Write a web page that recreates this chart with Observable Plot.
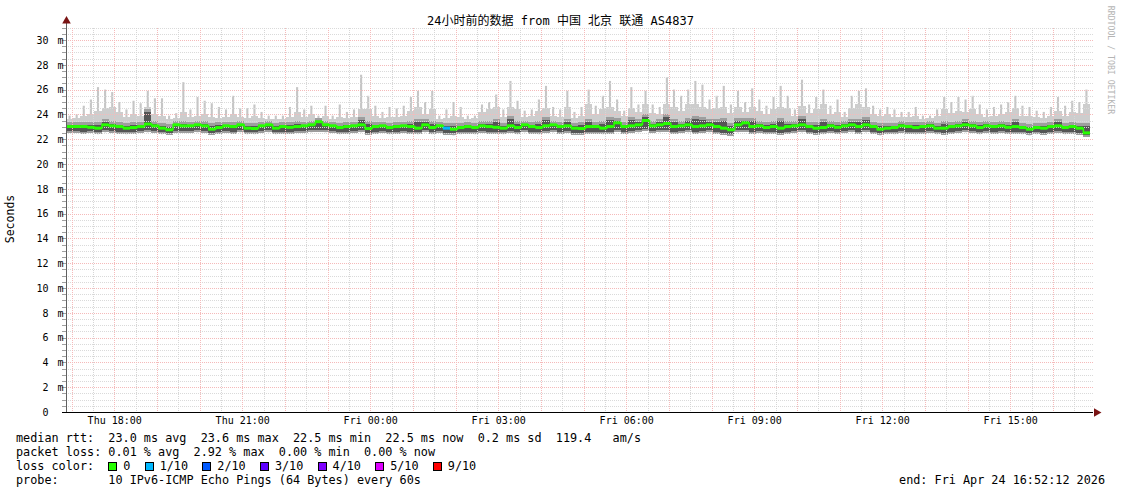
<!DOCTYPE html>
<html><head><meta charset="utf-8">
<script src="https://cdn.jsdelivr.net/npm/d3@7"></script>
<script src="https://cdn.jsdelivr.net/npm/@observablehq/plot@0.6"></script>
<style>
body{margin:0;background:#fff;}
#wrap{position:relative;width:1121px;height:494px;overflow:hidden;background:#fff;font-family:"DejaVu Sans Mono",monospace;}
#chart{position:absolute;left:0;top:0;}
.t{position:absolute;white-space:pre;color:#000;}
.leg{font-size:11.8px;line-height:14px;left:16px;}
.box{display:inline-block;width:15px;height:9px;position:relative;vertical-align:-1px;}
.box i{position:absolute;left:0;top:0;width:7px;height:7px;border:1px solid #000;}
</style></head>
<body>
<div id="wrap">
  <div id="chart"></div>
  <div class="t" id="title" style="left:0;width:1121px;text-align:center;top:14px;font-size:12px;line-height:14px;font-family:'DejaVu Sans Mono','Noto Sans CJK SC',monospace;"></div>
  <div class="t" id="ylab" style="left:10px;top:219px;font-size:11.5px;transform:translate(-50%,-50%) rotate(-90deg);"></div>
  <div class="t" id="wm" style="left:1111px;top:60px;font-size:8.2px;color:#b4b4b4;transform:translate(-50%,-50%) rotate(90deg);"></div>
  <div class="t leg" id="l1" style="top:431px;"></div>
  <div class="t leg" id="l2" style="top:445px;"></div>
  <div class="t leg" id="l3" style="top:459px;"></div>
  <div class="t leg" id="l4" style="top:473px;"></div>
  <div class="t leg" id="lend" style="top:473px;left:auto;right:16px;"></div>
</div>
<script>
// ---- texts ----
const titleText = "24小时前的数据 from 中国 北京 联通 AS4837";
const yAxisTitle = "Seconds";
const watermark = "RRDTOOL / TOBI OETIKER";
const statLine1 = "median rtt:  23.0 ms avg  23.6 ms max  22.5 ms min  22.5 ms now  0.2 ms sd  119.4   am/s";
const statLine2 = "packet loss: 0.01 % avg  2.92 % max  0.00 % min  0.00 % now";
const probeLine = "probe:       10 IPv6-ICMP Echo Pings (64 Bytes) every 60s";
const endLine = "end: Fri Apr 24 16:52:12 2026";
const lossLabels = ["0", "1/10", "2/10", "3/10", "4/10", "5/10", "9/10"];
const lossColors = ["#26ff00", "#00b8ff", "#0059ff", "#5e00ff", "#7e00ff", "#dd00ff", "#ff0000"];

// ---- axes ----
const yTicks = [0, 2, 4, 6, 8, 10, 12, 14, 16, 18, 20, 22, 24, 26, 28, 30];
const yMax = 31;
const startTime = Date.UTC(2026, 3, 23, 16, 52, 12);   // Thu Apr 23 16:52:12
const endTime = Date.UTC(2026, 3, 24, 16, 52, 12);     // Fri Apr 24 16:52:12
const binMinutes = 10;

// ---- data (ms), one value per 10-minute bin ----
const median = [
23.06,23.06,23.06,23.00,22.93,23.20,23.12,23.06,22.93,22.98,23.06,23.26,
23.12,22.93,22.80,23.20,23.12,23.12,23.20,23.12,22.85,22.98,23.12,23.06,
23.20,22.93,22.90,23.12,23.20,22.93,23.06,23.00,23.06,23.12,23.20,23.45,
23.20,23.12,22.98,23.06,23.12,23.20,22.90,23.06,23.12,22.98,23.06,23.12,
23.06,22.93,23.20,22.98,23.12,22.93,22.85,22.98,23.06,22.98,23.12,23.06,
23.00,22.93,23.12,22.98,23.20,23.06,22.98,23.12,23.20,23.06,23.12,22.93,
22.90,23.06,23.06,22.93,23.06,23.36,23.06,23.12,23.20,23.55,23.12,23.20,
23.30,23.06,23.12,23.20,23.06,23.12,23.20,23.06,22.93,22.80,23.20,23.36,
23.06,23.12,22.98,23.06,22.93,23.06,23.12,23.20,23.06,22.93,22.98,23.12,
23.00,23.12,23.20,23.06,23.20,23.06,22.85,22.93,22.98,23.12,23.06,22.98,
23.06,23.12,22.93,22.93,23.06,23.12,23.20,23.12,22.98,23.12,23.06,23.12,
23.00,23.06,22.98,22.85,22.98,22.93,23.06,23.12,22.98,23.06,22.93,22.55];
const pingMax = [
23.9,24.0,24.7,25.2,26.2,26.0,25.8,25.0,24.4,25.1,24.9,25.9,
25.3,25.3,23.9,24.1,26.6,24.4,25.4,25.1,24.9,24.6,24.4,25.5,
24.5,24.5,24.8,24.2,23.9,23.9,23.9,24.6,26.2,24.4,24.7,23.9,
24.7,23.9,24.8,24.2,24.4,27.2,25.5,24.7,24.2,24.6,24.5,24.7,
25.4,25.9,25.0,25.9,23.9,24.4,25.0,24.6,23.9,23.9,24.8,25.0,
25.6,24.4,26.7,25.1,24.3,24.4,25.2,26.3,24.6,24.4,25.9,24.2,
24.6,26.0,24.7,25.5,26.7,25.2,24.3,26.2,24.8,25.9,24.8,24.6,
27.0,26.0,25.5,26.0,26.7,26.4,25.2,25.5,26.3,24.8,25.9,25.0,
26.1,25.2,24.7,25.4,26.3,25.5,24.4,26.8,24.8,25.4,26.0,24.7,
25.2,24.2,25.5,25.9,26.1,24.7,24.4,24.6,24.4,24.2,24.2,24.6,
23.9,23.9,24.4,25.4,25.0,25.4,25.2,25.5,24.8,24.4,24.6,24.8,
25.0,25.5,24.7,24.6,24.3,24.2,24.6,25.4,24.7,25.1,25.0,26.0];
const ping9 = [
23.6,23.7,23.9,24.0,24.3,24.5,24.6,24.2,23.8,24.0,23.9,24.6,
24.0,23.9,23.6,23.7,24.2,23.8,23.9,24.0,23.8,23.7,23.8,24.0,
23.8,23.7,23.9,23.7,23.6,23.6,23.6,23.8,24.2,23.8,24.0,23.7,
23.9,23.6,23.8,23.7,23.8,24.4,24.4,23.9,23.7,23.8,23.8,23.9,
24.3,24.6,24.0,24.4,23.6,23.7,23.9,23.8,23.6,23.7,24.2,24.4,
24.6,23.8,24.6,24.4,23.8,23.9,24.3,24.5,23.9,23.8,24.6,23.7,
23.9,24.8,24.0,24.4,24.6,24.3,23.9,24.5,24.2,24.8,24.1,24.0,
24.8,24.6,24.3,24.8,24.8,24.6,24.4,24.5,24.6,24.1,24.6,24.2,
24.6,24.3,24.0,24.4,24.6,24.5,23.9,24.7,24.1,24.4,24.8,24.0,
24.2,23.8,24.5,24.8,24.6,24.0,23.9,24.0,23.8,23.8,23.8,23.9,
23.6,23.7,23.9,24.4,24.1,24.3,24.2,24.4,24.0,23.8,23.9,24.0,
24.2,24.5,23.9,23.9,23.8,23.7,23.9,24.3,23.9,24.2,24.1,24.8];
const pingUpper = [
23.4,23.4,23.4,23.4,23.4,23.6,23.5,23.4,23.3,23.4,23.4,24.4,
23.5,23.3,23.2,23.5,23.5,23.4,23.5,23.5,23.3,23.4,23.4,23.4,
23.5,23.3,23.3,23.4,23.5,23.3,23.4,23.4,23.5,23.4,23.5,23.7,
23.5,23.4,23.3,23.4,23.4,23.8,23.5,23.4,23.4,23.3,23.4,23.4,
23.5,23.6,23.6,23.5,23.4,23.3,23.3,23.3,23.4,23.3,23.5,23.5,
23.6,23.3,23.9,23.5,23.5,23.4,23.5,23.8,23.5,23.4,23.6,23.3,
23.4,23.6,23.4,23.5,23.8,23.7,23.4,23.8,23.6,24.0,23.5,23.6,
24.0,23.6,23.5,23.7,23.9,23.8,23.6,23.6,23.7,23.3,23.7,23.7,
23.7,23.5,23.4,23.5,23.7,23.5,23.5,23.9,23.4,23.4,23.6,23.5,
23.4,23.5,23.6,23.6,23.8,23.4,23.3,23.3,23.3,23.5,23.4,23.4,
23.4,23.5,23.3,23.5,23.4,23.5,23.6,23.5,23.4,23.5,23.4,23.5,
23.4,23.6,23.3,23.2,23.3,23.3,23.4,23.6,23.3,23.4,23.3,23.3];
const pingMin = [
22.50,22.50,22.45,22.50,22.40,22.55,22.50,22.45,22.40,22.45,22.50,22.55,
22.50,22.40,22.35,22.50,22.50,22.50,22.55,22.50,22.35,22.45,22.50,22.45,
22.55,22.40,22.40,22.50,22.55,22.40,22.45,22.45,22.50,22.50,22.55,22.60,
22.55,22.50,22.40,22.45,22.50,22.55,22.35,22.45,22.50,22.40,22.45,22.50,
22.45,22.40,22.55,22.40,22.50,22.35,22.30,22.40,22.45,22.40,22.50,22.45,
22.45,22.40,22.50,22.40,22.55,22.45,22.40,22.50,22.55,22.45,22.50,22.35,
22.35,22.45,22.45,22.40,22.45,22.60,22.45,22.50,22.55,22.70,22.50,22.55,
22.60,22.45,22.50,22.55,22.45,22.50,22.55,22.45,22.35,22.25,22.55,22.60,
22.45,22.50,22.40,22.45,22.35,22.45,22.50,22.55,22.45,22.35,22.40,22.50,
22.45,22.50,22.55,22.45,22.55,22.45,22.30,22.40,22.40,22.50,22.45,22.40,
22.45,22.50,22.40,22.35,22.45,22.50,22.55,22.50,22.40,22.50,22.45,22.50,
22.45,22.45,22.40,22.30,22.40,22.35,22.45,22.50,22.40,22.45,22.35,22.20];
const lossEvents = [[53, 1]]; // [bin index, lost pings of 10]

// ---- build table ----
const step = binMinutes * 60000;
const lossByBin = new Map(lossEvents);
const bins = median.map((m, i) => ({
  t1: new Date(startTime + i * step),
  t2: new Date(startTime + (i + 1) * step),
  tm: new Date(startTime + (i + 0.5) * step),
  med: m, hi: pingMax[i], hi2: ping9[i], up: pingUpper[i], lo: pingMin[i],
  loss: lossByBin.get(i) || 0
}));
const start = new Date(startTime), end = new Date(endTime);
const hourLines = d3.utcHour.range(start, end);
const halfLines = d3.utcMinute.every(30).range(start, end).filter(d => d.getUTCMinutes() === 30);
const xLabelTimes = d3.utcHour.every(3).range(start, end);
const yMinor = d3.range(0.5, yMax + 0.01, 0.5).filter(v => v % 2 !== 0);
const yMajor = yTicks.filter(v => v > 0);
const yAllTicks = d3.range(0, yMax + 0.01, 0.5);
const fmt = d3.utcFormat("%a %H:%M");
const mono = "DejaVu Sans Mono";

const chart = Plot.plot({
  width: 1121, height: 494,
  marginLeft: 66, marginRight: 31, marginTop: 27.6, marginBottom: 82,
  x: {type: "utc", domain: [start, end], axis: null},
  y: {domain: [0, yMax], axis: null},
  style: {background: "transparent"},
  marks: [
    // smoke
    Plot.rect(bins, {x1: "t1", x2: "t2", y1: "lo", y2: "hi", fill: "#c6c6c6", insetLeft: 2.5, insetRight: 2.5}),
    Plot.rect(bins, {x1: "t1", x2: "t2", y1: "lo", y2: "hi2", fill: "#cdcdcd", shapeRendering: "crispEdges"}),
    Plot.rect(bins, {x1: "t1", x2: "t2", y1: "lo", y2: "up", fill: "#9e9e9e", shapeRendering: "crispEdges"}),
    Plot.rect(bins, {x1: "t1", x2: "t2", y1: "lo", y2: "up", fill: "#555555", insetTop: 3, insetBottom: 2, shapeRendering: "crispEdges"}),
    // grid
    Plot.ruleY(yMinor, {stroke: "#dadada", strokeDasharray: "1,1", insetRight: -3, shapeRendering: "crispEdges"}),
    Plot.ruleX(halfLines, {stroke: "#d6d6d6", strokeDasharray: "1,1", shapeRendering: "crispEdges"}),
    Plot.ruleY(yMajor, {stroke: "#f5baba", strokeDasharray: "1,1", insetRight: -3, shapeRendering: "crispEdges"}),
    Plot.ruleX(hourLines, {stroke: "#f5baba", strokeDasharray: "1,1", shapeRendering: "crispEdges"}),
    // median rtt
    Plot.line(bins, {x: "tm", y: "med", curve: "step", stroke: lossColors[0], strokeWidth: 1.5}),
    Plot.ruleY(bins, {x1: "t1", x2: "t2", y: "med", stroke: d => lossColors[d.loss], strokeWidth: 3}),
    // axes
    Plot.ruleY(yAllTicks, {x1: () => start, x2: () => start, insetLeft: -4, stroke: "#a0a0a0", shapeRendering: "crispEdges"}),
    Plot.ruleX([start], {insetTop: -7, stroke: "#606060", shapeRendering: "crispEdges"}),
    Plot.ruleY([0], {insetLeft: -4, insetRight: -3, stroke: "#000", shapeRendering: "crispEdges"}),
    Plot.dot([start], {x: d => d, frameAnchor: "top", dy: -7, symbol: "triangle", r: 3.2, fill: "#7a1414", stroke: null}),
    Plot.dot([0], {x: () => end, y: d => d, dx: 6, symbol: "triangle", rotate: 90, r: 3.2, fill: "#7a1414", stroke: null}),
    Plot.text(yTicks, {y: d => d, frameAnchor: "left", dx: -18, textAnchor: "end", text: d => String(d), fontFamily: mono, fontSize: 10, fill: "#000"}),
    Plot.text(yMajor, {y: d => d, frameAnchor: "left", dx: -9, text: () => "m", fontFamily: mono, fontSize: 10, fill: "#000"}),
    Plot.text(xLabelTimes, {x: d => d, frameAnchor: "bottom", dy: 11, text: d => fmt(d), fontFamily: mono, fontSize: 10, fill: "#000"})
  ]
});
document.getElementById("chart").appendChild(chart);

// ---- text blocks ----
document.getElementById("title").textContent = titleText;
document.getElementById("ylab").textContent = yAxisTitle;
document.getElementById("wm").textContent = watermark;
document.getElementById("l1").textContent = statLine1;
document.getElementById("l2").textContent = statLine2;
document.getElementById("l4").textContent = probeLine;
document.getElementById("lend").textContent = endLine;
const l3 = document.getElementById("l3");
l3.appendChild(document.createTextNode("loss color:  "));
lossLabels.forEach((lab, i) => {
  const b = document.createElement("span");
  b.className = "box";
  const sq = document.createElement("i");
  sq.style.background = lossColors[i];
  b.appendChild(sq);
  l3.appendChild(b);
  l3.appendChild(document.createTextNode(lab + "  "));
});
</script>
</body></html>
